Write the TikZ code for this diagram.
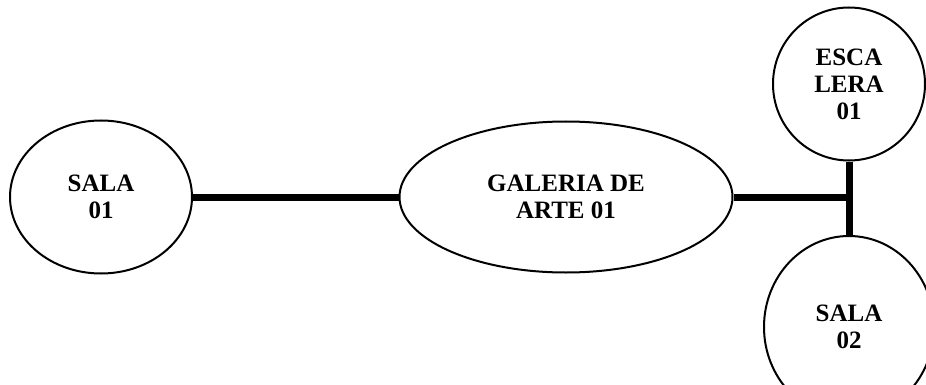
\documentclass[tikz,border=0pt]{standalone}
\usepackage{fontspec}
\setmainfont{Liberation Serif}
\usetikzlibrary{shapes.geometric}

\begin{document}
\begin{tikzpicture}[x=.5pt,y=-.5pt,
  room/.style={ellipse,draw,line width=1pt,inner sep=0pt,align=center,
    font=\fontsize{12.5}{13.5}\selectfont\bfseries},
  link/.style={line width=3.5pt}]
\useasboundingbox (0,0) rectangle (926,385);
\node[room,minimum width=91pt,minimum height=76.5pt] (sala1) at (101,197) {SALA\\01};
\node[room,minimum width=166.5pt,minimum height=75.5pt] (galeria) at (566,197) {GALERIA DE\\ARTE 01};
\node[room,minimum width=76pt,minimum height=76.5pt] (escalera) at (849,84) {ESCA\\LERA\\01};
\node[room,minimum width=85pt,minimum height=91pt] (sala2) at (849,327) {SALA\\02};
\coordinate (junction) at (849,197);
\draw[link] (sala1) -- (galeria);
\draw[link] (galeria.east) -- (junction);
\draw[link] (escalera) -- (sala2);
\end{tikzpicture}
\end{document}
